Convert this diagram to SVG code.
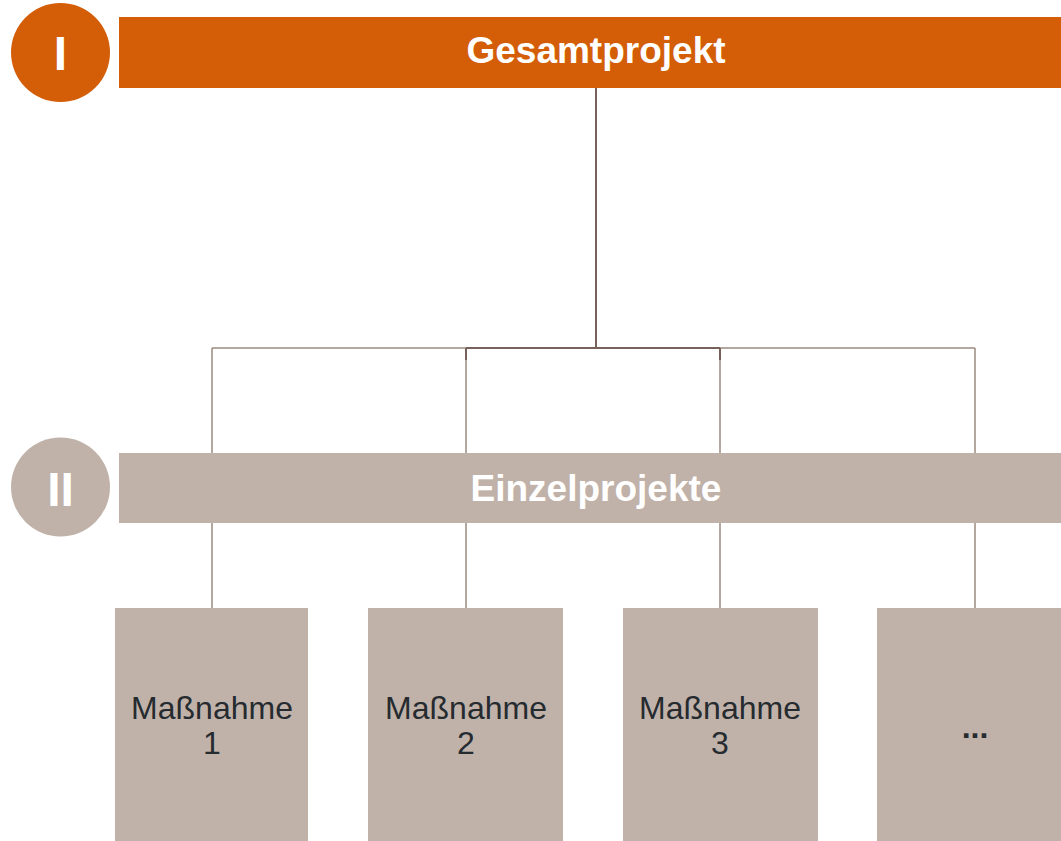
<svg xmlns="http://www.w3.org/2000/svg" width="1061" height="841" viewBox="0 0 1061 841">
<style>
.orange{fill:#D45D07}
.taupe{fill:#C0B2A9}
.head{font-family:"Liberation Sans",Arial,sans-serif;font-weight:bold;fill:#fff;text-anchor:middle}
.lbl{font-family:"Liberation Sans",Arial,sans-serif;font-size:32px;fill:#262b30;text-anchor:middle}
.ln{stroke:#9c8a80;stroke-width:1.5;fill:none}
.lnd{stroke:#76625a;stroke-width:2;fill:none}
</style>
<rect width="1061" height="841" fill="#fff"/>
<g id="connectors">
<path class="ln" d="M212,348 H975 M212,348 V608 M975,348 V608 M466,348 V608 M720,348 V608"/>
<path class="lnd" d="M596,88 V348 M466,348 H720 M466,348 V360 M720,348 V360"/>
</g>
<g id="level1">
<circle class="orange" cx="60.5" cy="52.5" r="49.5"/>
<text class="head" x="60.5" y="70" font-size="48">I</text>
</g>
<g id="gesamtprojekt">
<rect class="orange" x="119" y="17" width="954" height="71"/>
<text class="head" x="596" y="63" font-size="37">Gesamtprojekt</text>
</g>
<g id="level2">
<circle class="taupe" cx="60.5" cy="487" r="49.5"/>
<text class="head" x="60.5" y="506" font-size="48">II</text>
</g>
<g id="einzelprojekte">
<rect class="taupe" x="119" y="453" width="954" height="70"/>
<text class="head" x="596" y="501" font-size="37">Einzelprojekte</text>
</g>
<g id="massnahme1">
<rect class="taupe" x="115" y="608" width="193" height="240"/>
<text class="lbl" x="212" y="719">Maßnahme</text>
<text class="lbl" x="212" y="754">1</text>
</g>
<g id="massnahme2">
<rect class="taupe" x="368" y="608" width="195" height="240"/>
<text class="lbl" x="466" y="719">Maßnahme</text>
<text class="lbl" x="466" y="754">2</text>
</g>
<g id="massnahme3">
<rect class="taupe" x="623" y="608" width="195" height="240"/>
<text class="lbl" x="720" y="719">Maßnahme</text>
<text class="lbl" x="720" y="754">3</text>
</g>
<g id="more">
<rect class="taupe" x="877" y="608" width="195" height="240"/>
<text class="lbl" x="975" y="738" font-weight="bold">...</text>
</g>
</svg>
